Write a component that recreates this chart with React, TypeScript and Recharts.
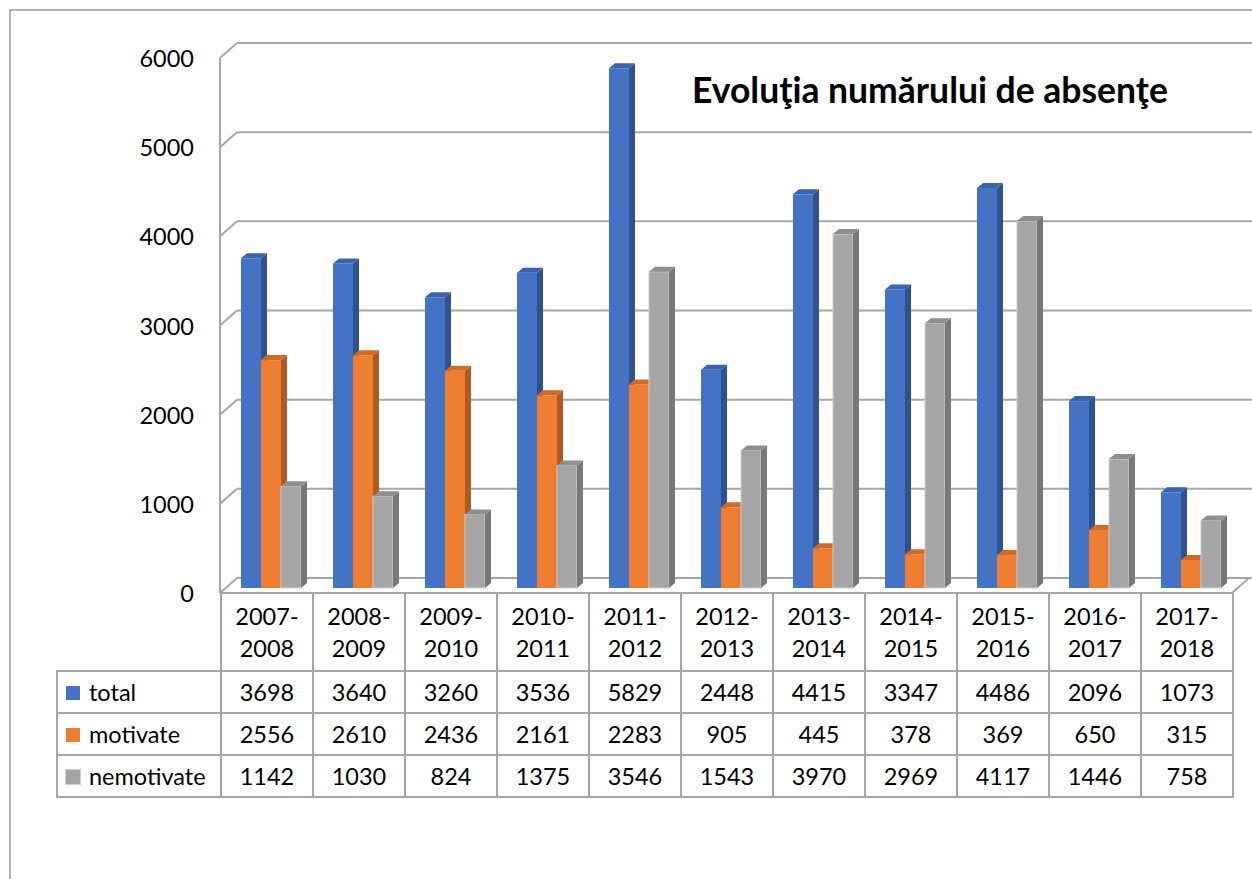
import { Bar, BarChart, CartesianGrid, XAxis, YAxis } from 'recharts'

const categories = [
  '2007-2008',
  '2008-2009',
  '2009-2010',
  '2010-2011',
  '2011-2012',
  '2012-2013',
  '2013-2014',
  '2014-2015',
  '2015-2016',
  '2016-2017',
  '2017-2018',
]
const total = [3698, 3640, 3260, 3536, 5829, 2448, 4415, 3347, 4486, 2096, 1073]
const motivate = [2556, 2610, 2436, 2161, 2283, 905, 445, 378, 369, 650, 315]
const nemotivate = [1142, 1030, 824, 1375, 3546, 1543, 3970, 2969, 4117, 1446, 758]
const yTicks = [0, 1000, 2000, 3000, 4000, 5000, 6000]

const series = [
  { key: 'total', label: 'total', values: total, front: '#4472C4', side: '#2F528F', top: '#3A63AD', edge: 'none' },
  { key: 'motivate', label: 'motivate', values: motivate, front: '#ED7D31', side: '#AE5A21', top: '#CF6B27', edge: 'none' },
  { key: 'nemotivate', label: 'nemotivate', values: nemotivate, front: '#A5A5A5', side: '#787878', top: '#8F8F8F', edge: '#D0D0D0' },
]

const data = categories.map((c, i) => ({
  name: c,
  total: total[i],
  motivate: motivate[i],
  nemotivate: nemotivate[i],
}))

const FONT = "Lato, 'Open Sans', sans-serif"
const GRID = '#A6A6A6'
const DX = 6
const DY = 5

// bar with a right side face and a top face, fake 3D
function Bar3D(props: any) {
  const { x, y, width, height, front, side, top, edge } = props
  if (height == null || height <= 0) return null
  return (
    <g>
      <rect x={x} y={y} width={width} height={height} fill={front} stroke={edge} strokeWidth={1} />
      <polygon
        points={`${x + width},${y} ${x + width + DX},${y - DY} ${x + width + DX},${y + height - DY} ${x + width},${y + height}`}
        fill={side}
      />
      <polygon
        points={`${x},${y} ${x + DX},${y - DY} ${x + width + DX},${y - DY} ${x + width},${y}`}
        fill={top}
      />
    </g>
  )
}

// back wall line + left diagonal, floor for the bottom line
function WallLine(props: any) {
  const { x1, x2, y1, index } = props
  const isFloor = y1 > 580
  return (
    <g key={`wall-${index}`}>
      <line x1={x1 - 5} y1={y1 + 5} x2={x1 + 12} y2={y1 - 10} stroke={GRID} strokeWidth={2} />
      <line x1={x1 + 12} y1={y1 - 10} x2={x2 + 20} y2={y1 - 10} stroke={GRID} strokeWidth={2} />
      {isFloor && (
        <>
          <line x1={x1 - 5} y1={y1 + 5} x2={x2 - 5} y2={y1 + 5} stroke={GRID} strokeWidth={2} />
          <line x1={x2 - 5} y1={y1 + 5} x2={x2 + 12} y2={y1 - 10} stroke={GRID} strokeWidth={2} />
        </>
      )}
    </g>
  )
}

function YTick(props: any) {
  const { x, y, payload } = props
  return (
    <text x={x} y={y + 5} textAnchor="end" dominantBaseline="central" fontSize={23.5} fontFamily={FONT} fill="#000">
      {payload.value}
    </text>
  )
}

const cellBorder = `2px solid ${GRID}`

export default function App() {
  return (
    <div
      style={{
        position: 'absolute',
        left: 0,
        top: 0,
        width: 1252,
        height: 879,
        background: '#fff',
        overflow: 'hidden',
        fontFamily: FONT,
      }}
    >
      <svg width={1252} height={879} style={{ position: 'absolute', left: 0, top: 0 }}>
        <rect x={10} y={10} width={1300} height={900} fill="none" stroke="#9A9A9A" strokeWidth={1.5} />
      </svg>
      <div style={{ position: 'absolute', left: 0, top: 0 }}>
        <BarChart
          width={1252}
          height={630}
          data={data}
          margin={{ top: 53, right: 15, bottom: 42, left: 165 }}
          barSize={20}
          barGap={0}
        >
          <CartesianGrid horizontal={WallLine} vertical={false} />
          <XAxis dataKey="name" hide />
          <YAxis
            domain={[0, 6000]}
            ticks={yTicks}
            width={60}
            tickSize={0}
            tickMargin={31}
            tick={YTick}
            axisLine={{ stroke: GRID, strokeWidth: 2, transform: 'translate(-5,5)' }}
            tickLine={false}
          />
          {series.map((s) => (
            <Bar
              key={s.key}
              dataKey={s.key}
              isAnimationActive={false}
              shape={(p: any) => <Bar3D {...p} front={s.front} side={s.side} top={s.top} edge={s.edge} />}
            />
          ))}
        </BarChart>
      </div>
      <svg width={1252} height={879} style={{ position: 'absolute', left: 0, top: 0, pointerEvents: 'none' }}>
        <text x={692} y={103} fontSize={35.5} fontWeight={700} fontFamily={FONT} fill="#000">
          Evoluţia numărului de absenţe
        </text>
      </svg>
      <table
        style={{
          position: 'absolute',
          left: 56,
          top: 592,
          borderCollapse: 'collapse',
          tableLayout: 'fixed',
          fontSize: 23.5,
          color: '#000',
        }}
      >
        <colgroup>
          <col style={{ width: 164 }} />
          {categories.map((c) => (
            <col key={c} style={{ width: 92 }} />
          ))}
        </colgroup>
        <tbody>
          <tr style={{ height: 78 }}>
            <td style={{ borderBottom: cellBorder, borderRight: cellBorder, padding: 0 }} />
            {categories.map((c) => {
              const [a, b] = c.split('-')
              return (
                <td key={c} style={{ border: cellBorder, textAlign: 'center', padding: 0, lineHeight: '32px' }}>
                  {a}-
                  <br />
                  {b}
                </td>
              )
            })}
          </tr>
          {series.map((s) => (
            <tr key={s.key} style={{ height: 42 }}>
              <td style={{ border: cellBorder, padding: '0 0 0 8px', whiteSpace: 'nowrap' }}>
                <span
                  style={{
                    display: 'inline-block',
                    width: 14,
                    height: 14,
                    background: s.front,
                    outline: s.edge === 'none' ? 'none' : `1px solid ${s.edge}`,
                    marginRight: 9,
                    verticalAlign: 'middle',
                    position: 'relative',
                    top: -2,
                  }}
                />
                {s.label}
              </td>
              {s.values.map((v, i) => (
                <td key={i} style={{ border: cellBorder, textAlign: 'center', padding: 0 }}>
                  {v}
                </td>
              ))}
            </tr>
          ))}
        </tbody>
      </table>
    </div>
  )
}
